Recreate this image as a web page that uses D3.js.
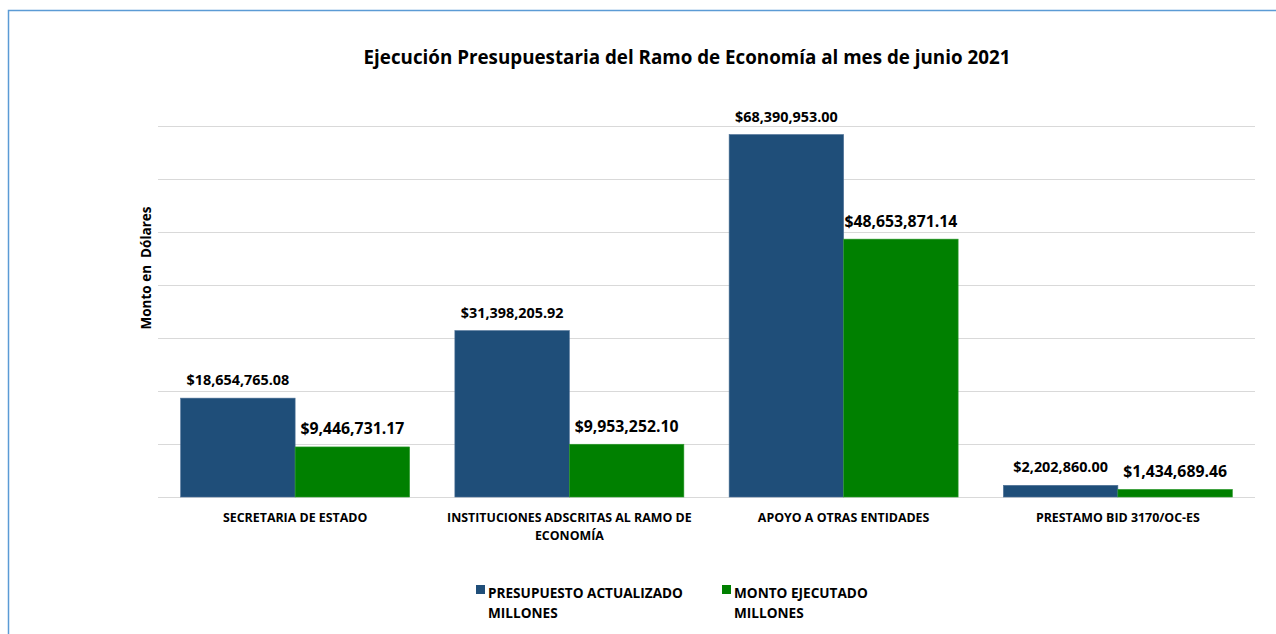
<!DOCTYPE html>
<html>
<head>
<meta charset="utf-8">
<script src="https://cdn.jsdelivr.net/npm/d3@7"></script>
<style>
body { margin: 0; background: #fff; }
text { font-family: "Open Sans", sans-serif; font-weight: bold; fill: #000; }
</style>
</head>
<body>
<svg id="chart" width="1276" height="634"></svg>
<script>
var categories = ["SECRETARIA DE ESTADO", "INSTITUCIONES ADSCRITAS AL RAMO DE|ECONOMÍA", "APOYO A OTRAS ENTIDADES", "PRESTAMO BID 3170/OC-ES"];
var presupuesto = [18654765.08, 31398205.92, 68390953.00, 2202860.00];
var ejecutado = [9446731.17, 9953252.10, 48653871.14, 1434689.46];
var seriesNames = ["PRESUPUESTO ACTUALIZADO|MILLONES", "MONTO EJECUTADO|MILLONES"];
var yTicks = [0, 10e6, 20e6, 30e6, 40e6, 50e6, 60e6, 70e6];

var svg = d3.select("#chart");
var plotLeft = 158, plotRight = 1255, plotTop = 126, plotBottom = 497;

// frame
svg.append("path")
    .attr("d", "M8.5,634 L8.5,10.5 L1276,10.5")
    .attr("fill", "none")
    .attr("stroke", "#5b9bd5")
    .attr("stroke-width", 1.5);

svg.append("text")
    .attr("x", 687).attr("y", 64)
    .attr("text-anchor", "middle")
    .style("font-size", "18.8px")
    .text("Ejecución Presupuestaria del Ramo de Economía al mes de junio 2021");

var x = d3.scaleBand().domain(d3.range(categories.length)).range([plotLeft, plotRight]).paddingInner(0.165).paddingOuter(0.0825);
var y = d3.scaleLinear().domain([0, 70e6]).range([plotBottom, plotTop]);

svg.append("g").selectAll("line")
    .data(yTicks)
    .enter().append("line")
    .attr("x1", plotLeft).attr("x2", plotRight)
    .attr("y1", function(d) { return Math.round(y(d)) + 0.5; })
    .attr("y2", function(d) { return Math.round(y(d)) + 0.5; })
    .attr("stroke", "#d9d9d9")
    .attr("stroke-width", 1);

svg.append("text")
    .attr("transform", "translate(151,268) rotate(-90)")
    .attr("text-anchor", "middle")
    .style("font-size", "13.5px")
    .style("white-space", "pre")
    .text("Monto en  Dólares");

var colors = ["#1f4e79", "#008000"];
var series = [presupuesto, ejecutado];
var bw = x.bandwidth() / 2;

series.forEach(function(vals, s) {
    var g = svg.append("g");
    g.selectAll("rect")
        .data(vals)
        .enter().append("rect")
        .attr("x", function(d, i) { return x(i) + s * bw; })
        .attr("y", function(d) { return y(d); })
        .attr("width", bw)
        .attr("height", function(d) { return plotBottom - y(d); })
        .attr("fill", colors[s])
        .attr("stroke", s == 0 ? "#4d7196" : "#2e9a2e")
        .attr("stroke-width", 0.6);
    g.selectAll("text")
        .data(vals)
        .enter().append("text")
        .attr("x", function(d, i) { return x(i) + s * bw + bw / 2; })
        .attr("y", function(d) { return y(d) - (s == 0 ? 13 : 12.5); })
        .attr("text-anchor", "middle")
        .style("font-size", s == 0 ? "14.4px" : "15.8px")
        .text(function(d) { return "$" + d3.format(",.2f")(d); });
});

// category labels
svg.append("g").selectAll("text")
    .data(categories)
    .enter().append("text")
    .attr("x", function(d, i) { return x(i) + x.bandwidth() / 2; })
    .attr("y", 522)
    .attr("text-anchor", "middle")
    .style("font-size", "12.4px")
    .each(function(d) {
        var lines = d.split("|");
        var t = d3.select(this);
        lines.forEach(function(l, k) {
            t.append("tspan")
                .attr("x", t.attr("x"))
                .attr("dy", k == 0 ? 0 : 18)
                .text(l);
        });
    });

// legend
var legendX = [476, 722];
seriesNames.forEach(function(name, s) {
    svg.append("rect")
        .attr("x", legendX[s]).attr("y", 585)
        .attr("width", 9).attr("height", 9)
        .attr("fill", colors[s]);
    var t = svg.append("text")
        .attr("x", legendX[s] + 12).attr("y", 598)
        .style("font-size", "13.6px");
    name.split("|").forEach(function(l, k) {
        t.append("tspan")
            .attr("x", legendX[s] + 12)
            .attr("dy", k == 0 ? 0 : 20)
            .text(l);
    });
});
</script>
</body>
</html>
